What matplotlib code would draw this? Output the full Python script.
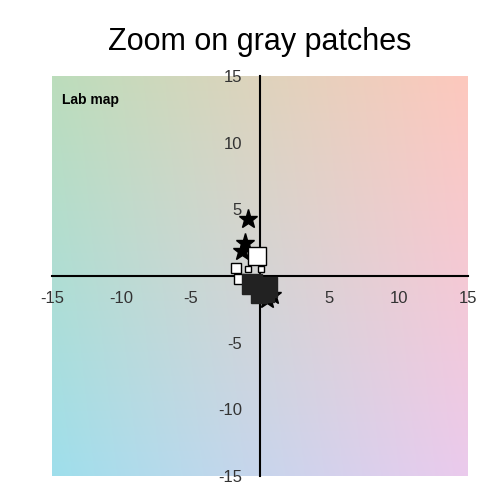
import numpy as np
import matplotlib

matplotlib.use("Agg")
import matplotlib.pyplot as plt

plt.rcParams["font.family"] = ["Liberation Sans", "DejaVu Sans"]
plt.rcParams["axes.unicode_minus"] = False

# target gray patches (stars)
star_a = [-0.9, -1.1, -1.3, 0.5, 0.9]
star_b = [4.3, 2.5, 1.9, -1.7, -1.4]
# measured patches, open squares
open_a = [-0.2, -1.7, -1.5, -0.9, 0.1]
open_b = [1.5, 0.6, -0.2, 0.5, 0.5]
open_size = [13, 7, 7, 5, 5]
# measured patches, filled squares
fill_a = [-0.6, 0.5, -0.1, 0.6]
fill_b = [-0.6, -0.8, -1.4, -1.5]
fill_size = [15, 15, 11, 9]

ticks = [-15, -10, -5, 5, 10, 15]
lim = 15
L_bg = 85


def lab_to_rgb(L, a, b):
    fy = (L + 16) / 116
    fx = fy + a / 500
    fz = fy - b / 200

    def finv(t):
        return np.where(t > 6 / 29, t ** 3, 3 * (6 / 29) ** 2 * (t - 4 / 29))

    X = 0.95047 * finv(fx)
    Y = 1.0 * finv(fy)
    Z = 1.08883 * finv(fz)
    r = 3.2406 * X - 1.5372 * Y - 0.4986 * Z
    g = -0.9689 * X + 1.8758 * Y + 0.0415 * Z
    bl = 0.0557 * X - 0.2040 * Y + 1.0570 * Z
    rgb = np.stack([r, g, bl], axis=-1)
    rgb = np.clip(rgb, 0, 1)
    return np.where(rgb <= 0.0031308, 12.92 * rgb, 1.055 * rgb ** (1 / 2.4) - 0.055)


fig = plt.figure(figsize=(4.79, 4.84), dpi=100)
ax = fig.add_axes([52 / 479, 8 / 484, 416 / 479, 400 / 484])

grid = np.linspace(-lim, lim, 200)
aa, bb = np.meshgrid(grid, grid[::-1])
bg = lab_to_rgb(np.full_like(aa, L_bg), aa * 1.15, bb * 0.85)
ax.imshow(bg, extent=[-lim, lim, -lim, lim], aspect="auto", zorder=0)

ax.plot(star_a, star_b, "*", color="black", markersize=14, zorder=3)
for a, b, s in zip(open_a, open_b, open_size):
    ax.plot(a, b, "s", mfc="white", mec="black", mew=1.0, markersize=s, zorder=4)
for a, b, s in zip(fill_a, fill_b, fill_size):
    ax.plot(a, b, "s", color="#222222", markersize=s, zorder=4)

ax.set_xlim(-lim, lim)
ax.set_ylim(-lim, lim)
for side in ["top", "right"]:
    ax.spines[side].set_visible(False)
ax.spines["left"].set_position("zero")
ax.spines["bottom"].set_position("zero")
ax.spines["left"].set_linewidth(1.5)
ax.spines["bottom"].set_linewidth(1.5)
ax.spines["left"].set_zorder(2)
ax.spines["bottom"].set_zorder(2)
ax.set_xticks(ticks)
ax.set_yticks(ticks)
ax.tick_params(length=0, labelsize=12, labelcolor="#333333")
ax.tick_params(axis="x", pad=11)
ax.tick_params(axis="y", pad=13)

ax.text(0.024, 0.958, "Lab map", transform=ax.transAxes, fontsize=10,
        fontweight="bold", va="top", ha="left", zorder=5)

fig.text(260 / 479, 1 - 42 / 484, "Zoom on gray patches", fontsize=22,
         ha="center", va="center")

fig.savefig("out.png", dpi=100)
